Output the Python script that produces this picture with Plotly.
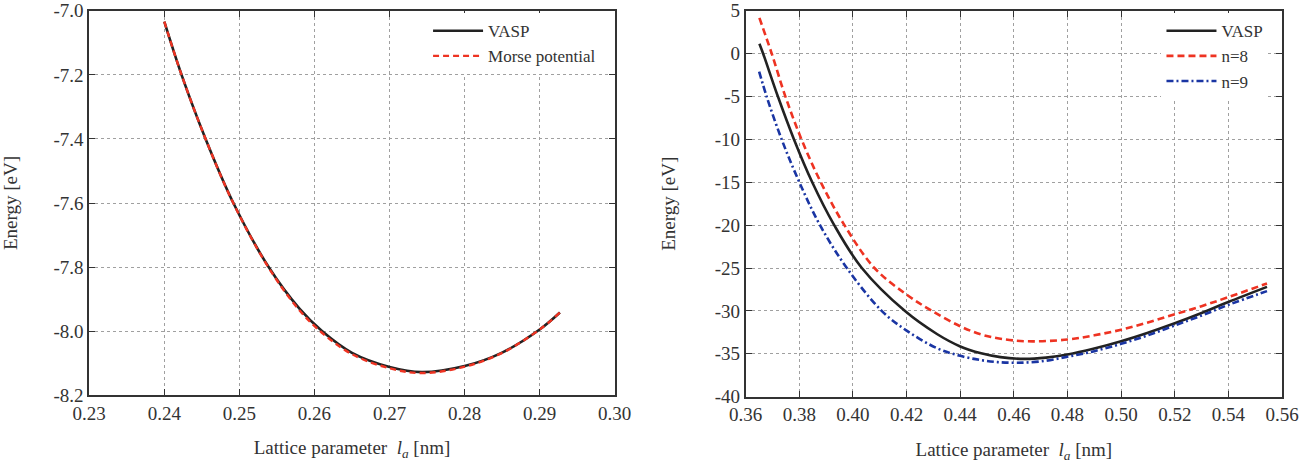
import plotly.graph_objects as go

# ---------------- Left panel data ----------------
left_x_vasp = [0.2400, 0.2423, 0.2455, 0.2492, 0.2539, 0.2580, 0.2610, 0.2650,
               0.2700, 0.2743, 0.2800, 0.2850, 0.2900, 0.2927]
left_y_vasp = [-7.034, -7.200, -7.400, -7.600, -7.800, -7.930, -8.000, -8.068,
               -8.112, -8.128, -8.109, -8.067, -7.995, -7.942]
left_x_morse = [0.2400, 0.2423, 0.2455, 0.2492, 0.2539, 0.2580, 0.2610, 0.2650,
                0.2700, 0.2743, 0.2800, 0.2850, 0.2900, 0.2927]
left_y_morse = [-7.034, -7.200, -7.400, -7.601, -7.802, -7.935, -8.005, -8.072,
                -8.116, -8.131, -8.111, -8.068, -7.995, -7.942]

left_xticks = [0.23, 0.24, 0.25, 0.26, 0.27, 0.28, 0.29, 0.30]
left_xlabels = ["0.23", "0.24", "0.25", "0.26", "0.27", "0.28", "0.29", "0.30"]
left_yticks = [-8.2, -8.0, -7.8, -7.6, -7.4, -7.2, -7.0]
left_ylabels = ["-8.2", "-8.0", "-7.8", "-7.6", "-7.4", "-7.2", "-7.0"]

# ---------------- Right panel data ----------------
right_x_vasp = [0.3651, 0.3665, 0.3720, 0.3780, 0.3848, 0.3930, 0.4033, 0.4193,
                0.4313, 0.4400, 0.4478, 0.4550, 0.4640, 0.4720, 0.4800, 0.4900,
                0.5000, 0.5100, 0.5200, 0.5300, 0.5400, 0.5544]
right_y_vasp = [1.16, 0.0, -5.0, -10.0, -15.0, -20.0, -25.0, -30.0,
                -32.7, -34.15, -34.95, -35.4, -35.6, -35.45, -35.1, -34.4,
                -33.55, -32.55, -31.45, -30.25, -28.96, -27.2]

right_x_n8 = [0.3651, 0.3697, 0.3748, 0.3808, 0.3880, 0.3968, 0.4080, 0.4200,
              0.4294, 0.4400, 0.4478, 0.4550, 0.4649, 0.4800, 0.4900, 0.5000,
              0.5100, 0.5200, 0.5300, 0.5400, 0.5544]
right_y_n8 = [4.17, 0.0, -5.0, -10.0, -15.0, -20.0, -25.0, -28.1,
              -30.0, -31.8, -32.75, -33.25, -33.55, -33.35, -32.85, -32.2,
              -31.35, -30.4, -29.45, -28.4, -26.8]

right_x_n9 = [0.3650, 0.3678, 0.3734, 0.3800, 0.3877, 0.3977, 0.4107, 0.4200,
              0.4313, 0.4400, 0.4478, 0.4540, 0.4611, 0.4700, 0.4800, 0.4900,
              0.5000, 0.5100, 0.5200, 0.5300, 0.5400, 0.5544]
right_y_n9 = [-2.08, -5.0, -10.0, -15.0, -20.0, -25.0, -30.0, -32.3,
              -34.35, -35.25, -35.75, -35.98, -36.05, -35.9, -35.35, -34.7,
              -33.85, -32.85, -31.7, -30.55, -29.3, -27.7]

right_xticks = [0.36, 0.38, 0.40, 0.42, 0.44, 0.46, 0.48, 0.50, 0.52, 0.54, 0.56]
right_xlabels = ["0.36", "0.38", "0.40", "0.42", "0.44", "0.46", "0.48", "0.50",
                 "0.52", "0.54", "0.56"]
right_yticks = [-40, -35, -30, -25, -20, -15, -10, -5, 0, 5]
right_ylabels = ["-40", "-35", "-30", "-25", "-20", "-15", "-10", "-5", "0", "5"]

FONT = "Liberation Serif, Times New Roman, serif"
TXT = "#333333"
BLACK = "#222222"
RED = "#ee3322"
BLUE = "#1a35a3"
SM = 1.0

fig = go.Figure()

fig.add_trace(go.Scatter(x=left_x_vasp, y=left_y_vasp, mode="lines", name="VASP",
                         line=dict(color=BLACK, width=2.6, shape="spline", smoothing=SM),
                         xaxis="x", yaxis="y", legend="legend"))
fig.add_trace(go.Scatter(x=left_x_morse, y=left_y_morse, mode="lines", name="Morse potential",
                         line=dict(color=RED, width=2.4, dash="6px,4px", shape="spline", smoothing=SM),
                         xaxis="x", yaxis="y", legend="legend"))

fig.add_trace(go.Scatter(x=right_x_vasp, y=right_y_vasp, mode="lines", name="VASP",
                         line=dict(color=BLACK, width=2.6, shape="spline", smoothing=SM),
                         xaxis="x2", yaxis="y2", legend="legend2"))
fig.add_trace(go.Scatter(x=right_x_n8, y=right_y_n8, mode="lines", name="n=8",
                         line=dict(color=RED, width=2.6, dash="7px,4px", shape="spline", smoothing=SM),
                         xaxis="x2", yaxis="y2", legend="legend2"))
fig.add_trace(go.Scatter(x=right_x_n9, y=right_y_n9, mode="lines", name="n=9",
                         line=dict(color=BLUE, width=2.6, dash="7px,3px,2px,3px", shape="spline", smoothing=SM),
                         xaxis="x2", yaxis="y2", legend="legend2"))

axis_common = dict(
    showline=True, linecolor="#333333", linewidth=1.8, mirror="ticks",
    ticks="inside", ticklen=6, tickwidth=1.2, tickcolor="#333333",
    showgrid=True, gridcolor="#a0a0a0", griddash="dot", gridwidth=1,
    zeroline=False, automargin=False, tickmode="array",
    ticklabeloverflow="allow",
    tickfont=dict(family=FONT, size=19, color=TXT),
)

xtitle = "Lattice parameter  <i>l<sub>a</sub></i> [nm]"
tfont = dict(family=FONT, size=19, color=TXT)

fig.update_layout(
    width=1301, height=471,
    margin=dict(l=0, r=0, t=0, b=0),
    paper_bgcolor="white", plot_bgcolor="white",
    font=dict(family=FONT, size=19, color=TXT),
    xaxis=dict(domain=[0.0686, 0.4725], range=[0.23, 0.30],
               tickvals=left_xticks, ticktext=left_xlabels,
               anchor="y", title=dict(text=xtitle, standoff=18, font=tfont),
               **axis_common),
    yaxis=dict(domain=[0.161, 0.977], range=[-8.2, -7.0],
               tickvals=left_yticks, ticktext=left_ylabels,
               anchor="x", title=dict(text="Energy [eV]", standoff=34, font=tfont),
               **axis_common),
    xaxis2=dict(domain=[0.5732, 0.9854], range=[0.36, 0.56],
                tickvals=right_xticks, ticktext=right_xlabels,
                anchor="y2", title=dict(text=xtitle, standoff=18, font=tfont),
                **axis_common),
    yaxis2=dict(domain=[0.158, 0.977], range=[-40, 5],
                tickvals=right_yticks, ticktext=right_ylabels,
                anchor="x2", title=dict(text="Energy [eV]", standoff=34, font=tfont),
                **axis_common),
    legend=dict(x=0.462, y=0.972, xanchor="right", yanchor="top",
                bgcolor="white", borderwidth=0,
                font=dict(family=FONT, size=17, color=TXT),
                tracegroupgap=0, itemwidth=50),
    legend2=dict(x=0.975, y=0.972, xanchor="right", yanchor="top",
                 bgcolor="white", borderwidth=0,
                 font=dict(family=FONT, size=17, color=TXT),
                 tracegroupgap=0, itemwidth=50),
    showlegend=True,
)

fig.write_html("out.html")
